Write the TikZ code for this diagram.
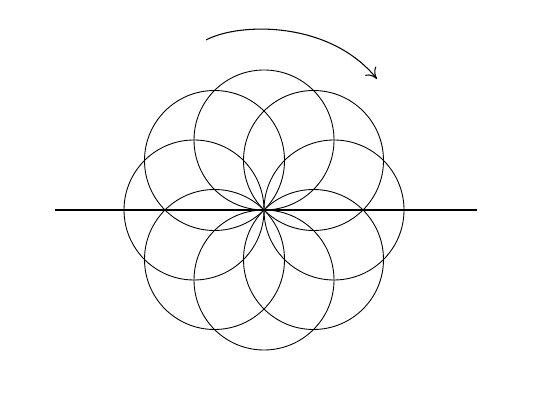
\documentclass[tikz,border=0pt]{standalone}
\usetikzlibrary{calc,arrows.meta}
\tikzset{
  petal/.style={draw,line width=0.5pt},
  axis/.style={line width=0.7pt},
  turn/.style={line width=0.6pt,-{To[length=6pt,width=8pt]}}
}
\begin{document}
\begin{tikzpicture}[x=0.02cm,y=0.02cm]
      \useasboundingbox (0,0) rectangle (550,402);
      \coordinate (centre) at (264,192);
      \coordinate (left end) at (55,192);
      \coordinate (right end) at (477,192);
      \coordinate (turn start) at (206,362);
      \coordinate (turn end) at (377,323);

      \foreach \a in {0,45,...,315}
        \draw[petal] ($(centre)+(\a:70)$) circle (70);

      \draw[axis] (left end) -- (right end);
      \draw[turn] (turn start) .. controls (240,380) and (330,381) .. (turn end);
    \end{tikzpicture}
\end{document}
